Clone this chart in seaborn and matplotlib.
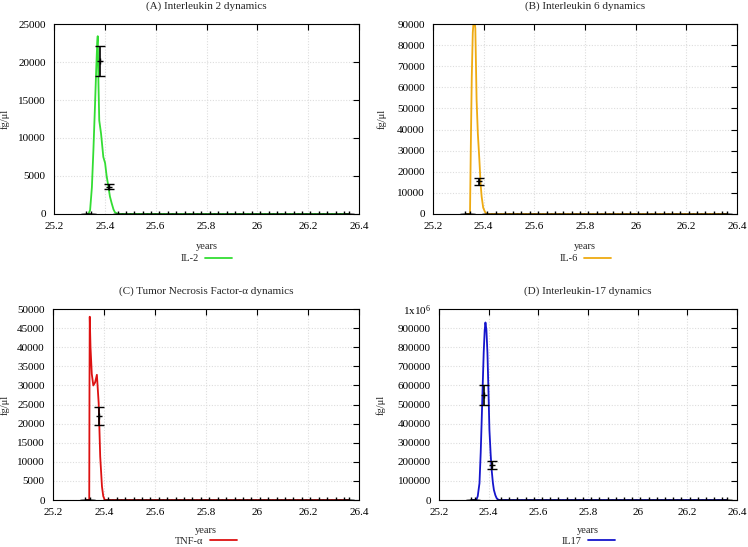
import numpy as np
import matplotlib
matplotlib.use("Agg")
import matplotlib.pyplot as plt
import seaborn as sns
from matplotlib.ticker import FuncFormatter, MultipleLocator

# model curves (time in years, concentration fg/ul)
il2_t = [25.330, 25.335, 25.342, 25.349, 25.355, 25.361, 25.366, 25.370, 25.372, 25.375,
         25.378, 25.385, 25.394, 25.401, 25.407, 25.414, 25.420, 25.427, 25.434, 25.440,
         25.450, 25.460, 26.360]
il2_v = [0, 0, 500, 3500, 8400, 14000, 19000, 22500, 23400, 17000,
         12300, 10600, 7500, 6700, 5000, 3600, 2300, 1400, 600, 200,
         50, 0, 0]

il6_t = [25.330, 25.346, 25.349, 25.353, 25.357, 25.362, 25.367, 25.372, 25.377, 25.383,
         25.388, 25.392, 25.398, 25.405, 25.412, 26.360]
il6_v = [0, 0, 30000, 65000, 86000, 94000, 88000, 54000, 38000, 25600,
         14000, 8200, 3000, 1000, 0, 0]

tnf_t = [25.330, 25.342, 25.343, 25.344, 25.347, 25.352, 25.358, 25.365, 25.372, 25.379,
         25.385, 25.392, 25.397, 25.403, 26.360]
tnf_v = [0, 0, 30000, 48000, 40000, 33000, 30000, 30800, 32800, 25400,
         11400, 3500, 1000, 0, 0]

il17_t = [25.330, 25.350, 25.356, 25.363, 25.368, 25.372, 25.376, 25.380, 25.384, 25.387,
          25.391, 25.395, 25.399, 25.403, 25.408, 25.412, 25.417, 25.421, 25.427, 25.432,
          25.440, 26.360]
il17_v = [0, 0, 20000, 88000, 250000, 421000, 600000, 773000, 890000, 930000,
          890000, 773000, 580000, 368000, 240000, 158000, 90000, 53000, 25000, 10000,
          0, 0]

# observations (mean +- error)
obs_t = [25.327, 25.345, 25.380, 25.415, 25.450, 25.483, 25.516, 25.549, 25.582, 25.615,
         25.648, 25.681, 25.714, 25.747, 25.780, 25.813, 25.846, 25.879, 25.912, 25.945,
         25.978, 26.011, 26.044, 26.077, 26.110, 26.143, 26.176, 26.209, 26.242, 26.275,
         26.308, 26.341, 26.360]
n_rest = len(obs_t) - 4
il2_obs = [0, 0, 20100, 3600] + [0] * n_rest
il2_err = [0, 0, 2000, 300] + [0] * n_rest
il6_obs = [0, 0, 15400, 0] + [0] * n_rest
il6_err = [0, 0, 1600, 0] + [0] * n_rest
tnf_obs = [0, 0, 22000, 0] + [0] * n_rest
tnf_err = [0, 0, 2300, 0] + [0] * n_rest
il17_obs = [0, 0, 550000, 184000] + [0] * n_rest
il17_err = [0, 0, 53000, 19000] + [0] * n_rest

sns.set_style("white")
plt.rcParams['font.family'] = ['Liberation Serif', 'DejaVu Serif']
plt.rcParams['mathtext.fontset'] = 'custom'
plt.rcParams['mathtext.rm'] = 'Liberation Serif'
plt.rcParams['mathtext.it'] = 'Liberation Serif:italic'

fig = plt.figure(figsize=(7.48, 5.47), dpi=100)

panels = [
    # title, label, t, v, obs, err, color, ymax, ystep, axes rect, ylabel x, legend y
    ("(A) Interleukin 2 dynamics", "IL-2", il2_t, il2_v, il2_obs, il2_err, "#33dd33",
     25000, 5000, [0.0722, 0.6088, 0.4078, 0.3473], -0.145, -0.235),
    ("(B) Interleukin 6 dynamics", "IL-6", il6_t, il6_v, il6_obs, il6_err, "#eeaa11",
     90000, 10000, [0.5789, 0.6088, 0.4064, 0.3473], -0.153, -0.235),
    ("(C) Tumor Necrosis Factor-\u03b1 dynamics", "TNF-\u03b1", tnf_t, tnf_v, tnf_obs, tnf_err, "#dd1111",
     50000, 5000, [0.0709, 0.0859, 0.4090, 0.3490], -0.14, -0.215),
    ("(D) Interleukin-17 dynamics", "IL17", il17_t, il17_v, il17_obs, il17_err, "#1515cc",
     1000000, 100000, [0.5869, 0.0859, 0.3984, 0.3490], -0.178, -0.215),
]


def yfmt(v, pos):
    if abs(v - 1e6) < 1:
        return r'1x10$^{6}$'
    return '%d' % round(v)


for title, lab, t, v, obs, err, col, ymax, ystep, rect, ylx, legy in panels:
    ax = fig.add_axes(rect)
    sns.lineplot(x=t, y=v, ax=ax, color=col, lw=1.3, label=lab, sort=False)
    ax.errorbar(obs_t, obs, yerr=err, fmt='+', color='black', ms=4.5, mew=1.0,
                elinewidth=1.2, capsize=3.5, capthick=1.6, zorder=4)
    ax.set_xlim(25.2, 26.4)
    ax.set_ylim(0, ymax)
    ax.xaxis.set_major_locator(MultipleLocator(0.2))
    ax.yaxis.set_major_locator(MultipleLocator(ystep))
    ax.xaxis.set_major_formatter(FuncFormatter(lambda x, p: '%g' % round(x, 1)))
    ax.yaxis.set_major_formatter(FuncFormatter(yfmt))
    ax.tick_params(direction='in', top=True, right=True, labelsize=8, length=4,
                   width=0.8, colors='black', pad=6)
    ax.grid(True, color='#dddddd', linestyle=(0, (1, 1.5)), lw=0.8)
    for s in ax.spines.values():
        s.set_color('black')
        s.set_linewidth(0.8)
    ax.set_title(title, fontsize=8, pad=11)
    ax.set_xlabel("years", fontsize=7.5, labelpad=8 if legy < -0.23 else 6)
    ax.set_ylabel("fg/\u03bcl", fontsize=7.5)
    ax.yaxis.set_label_coords(ylx, 0.5)
    ax.legend(loc='center', bbox_to_anchor=(0.5, legy), frameon=False,
              markerfirst=False, handlelength=2.6, fontsize=7.5, handletextpad=0.6)

fig.savefig("out.png", dpi=100)
